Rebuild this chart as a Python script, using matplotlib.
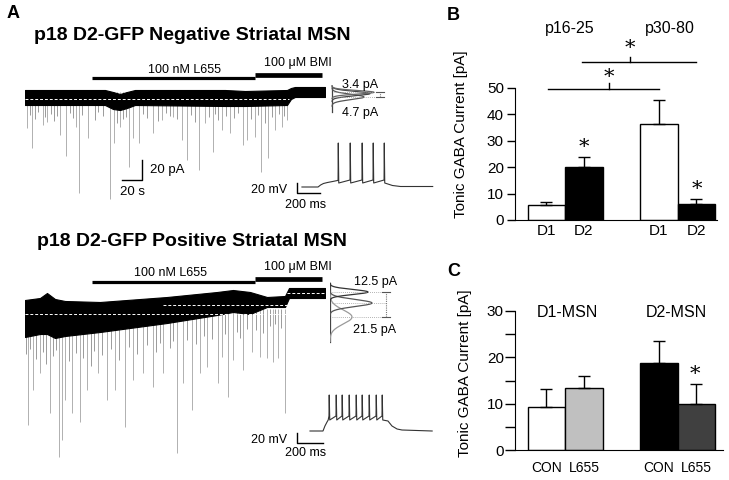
import matplotlib
matplotlib.use("Agg")
import matplotlib.pyplot as plt
import numpy as np

plt.rcParams['font.family'] = ['Liberation Sans', 'DejaVu Sans']
plt.rcParams['mathtext.default'] = 'regular'

W, H = 729, 480

# ======================= DATA =======================
# ---- Panel A, trace 1: p18 D2-GFP negative MSN (time s, current pA) ----
tr1_t = [0, 80, 88, 95, 102, 110, 200, 220, 262, 266, 270, 300]
tr1_hi = [7, 7, 5, 3, 5, 7, 7, 6, 7, 9, 10, 10]
tr1_lo = [-8, -8, -12, -13, -11, -8, -9, -9, -8, -2, 0, 0]
tr1_ev_t = [2, 7, 18, 22, 35, 41, 51, 54, 63, 85, 89, 95, 104, 108, 114, 128, 137,
            148, 157, 162, 174, 180, 188, 197, 205, 218, 222, 230, 236, 243, 250, 257, 262]
tr1_ev_amp = [-31, -51, -28, -25, -38, -59, -30, -96, -41, -102, -46, -30, -70, -41, -46, -36, -23,
              -20, -43, -63, -73, -26, -55, -33, -36, -48, -43, -40, -75, -61, -33, -30, -23]
tr1_sm_t = [5, 10, 13, 20, 26, 29, 32, 45, 48, 57, 70, 73, 78, 92, 98, 101, 118, 122,
            133, 141, 145, 152, 166, 170, 184, 190, 193, 201, 209, 213, 226, 233, 240, 247, 254, 259]
tr1_sm_amp = [-18, -22, -15, -20, -17, -24, -19, -16, -21, -18, -23, -15, -19, -26, -22, -20, -17, -21,
              -24, -16, -19, -22, -18, -25, -20, -17, -23, -19, -21, -16, -22, -18, -26, -20, -17, -19]
tr1_l655 = [67, 230]
tr1_bmi = [230, 297]

# ---- Panel A, trace 2: p18 D2-GFP positive MSN ----
tr2_t = [0, 15, 22, 30, 40, 75, 142, 192, 208, 225, 242, 260, 264, 270, 300]
tr2_hi = [14, 16, 21, 15, 13, 12, 17, 22, 24, 22, 17, 18, 26, 26, 26]
tr2_lo = [-23, -20, -20, -24, -22, -18, -9, -1, 2, 0, 7, 7, 16, 16, 16]
tr2_ev_t = [3, 8, 15, 25, 34, 37, 40, 47, 55, 62, 73, 82, 90, 100, 108, 118, 128, 138, 152, 158,
            167, 175, 182, 193, 197, 203, 208, 218, 227, 235, 242, 248, 253, 260]
tr2_ev_amp = [-111, -76, -59, -99, -143, -126, -86, -99, -108, -76, -59, -86, -76, -113, -66, -59, -73,
              -59, -139, -69, -96, -59, -53, -69, -43, -83, -46, -56, -38, -43, -44, -48, -44, -99]
tr2_sm_t = [1, 5, 11, 18, 21, 28, 31, 44, 51, 58, 66, 69, 77, 86, 94, 104, 112, 122, 131, 135,
            145, 148, 162, 171, 179, 187, 200, 212, 215, 222, 231, 238, 245, 250, 256]
tr2_sm_amp = [-40, -35, -45, -38, -50, -42, -36, -47, -39, -44, -52, -37, -41, -35, -46, -33, -40,
              -31, -38, -29, -34, -27, -26, -30, -22, -25, -20, -18, -24, -15, -16, -19, -12, -10, -14]
tr2_l655 = [67, 230]
tr2_bmi = [230, 297]

# ---- all-point histogram gaussian fits (mean pA, sd pA, relative height) ----
h1_mean = [0.0, 3.4, 4.7]
h1_sd = [2.6, 2.2, 1.8]
h1_height = [0.8, 0.95, 1.05]
h2_mean = [-3.0, 11.0, 22.0]
h2_sd = [7.0, 3.5, 2.5]
h2_height = [0.55, 1.05, 0.95]

# ---- voltage traces (ms, mV) ----
v1_pre_t = [43, 183, 205, 230, 265, 310, 352]
v1_pre_v = [-70, -70, -66, -63, -61, -59, -57]
v1_spk_t = [357, 461, 565, 661, 757]
v1_peak, v1_trough, v1_ramp = 18, -62, -56
v1_post_t = [790, 830, 900, 1180]
v1_post_v = [-64, -67, -69, -69]

v2_pre_t = [100, 200, 215, 231, 240]
v2_pre_v = [-70, -70, -60, -52, -48]
v2_spk_t = [246, 300, 346, 400, 454, 500, 554, 608, 654]
v2_peak, v2_trough, v2_ramp = 2, -48, -40
v2_post_t = [700, 731, 770, 808, 1040]
v2_post_v = [-50, -60, -66, -68, -70]

# ---- Panel B ----
B_groups = ["p16-25", "p30-80"]
B_labels = ["D1", "D2", "D1", "D2"]
B_vals = [5.5, 20.0, 36.3, 6.0]
B_err = [1.5, 3.7, 9.1, 2.1]
B_colors = ["white", "black", "white", "black"]

# ---- Panel C ----
C_groups = ["D1-MSN", "D2-MSN"]
C_labels = ["CON", "L655", "CON", "L655"]
C_vals = [9.2, 13.3, 18.7, 9.9]
C_err = [4.0, 2.7, 4.8, 4.3]
C_colors = ["white", "#c0c0c0", "black", "#404040"]

# ======================= FIGURE =======================
fig = plt.figure(figsize=(W / 100, H / 100), dpi=100)


def box(x0, y0, x1, y1):
    return [x0 / W, 1 - y1 / H, (x1 - x0) / W, (y1 - y0) / H]


def ftext(x, y, s, **kw):
    kw.setdefault('va', 'center')
    fig.text(x / W, 1 - y / H, s, **kw)


def trace(box_px, ylim, et, ehi, elo, ev_t, ev_amp, sm_t, sm_amp, l655, bmi, ybar, dash):
    ax = fig.add_axes(box_px)
    ax.set_xlim(0, 300)
    ax.set_ylim(*ylim)
    ax.axis('off')
    ax.vlines(sm_t, sm_amp, 5, color='#8a8a8a', lw=0.6, zorder=1)
    ax.vlines(ev_t, ev_amp, 5, color='#b0b0b0', lw=0.7, zorder=1)
    ax.fill_between(et, elo, ehi, color='black', lw=0.8, edgecolor='black', zorder=3)
    for (x0, x1, yv) in dash:
        ax.plot([x0, x1], [yv, yv], color='white', lw=0.7, ls=(0, (3, 2)), zorder=4)
    ax.plot(l655, [ybar, ybar], color='k', lw=2.3, solid_capstyle='butt', clip_on=False)
    ax.plot(bmi, [ybar + 3, ybar + 3], color='k', lw=3.4, solid_capstyle='butt', clip_on=False)
    return ax


def hist(box_px, ylim, xlim, base, means, sds, heights, colors, ibeam_x, ilev):
    ax = fig.add_axes(box_px)
    ax.set_xlim(*xlim)
    ax.set_ylim(*ylim)
    ax.axis('off')
    ax.plot([0, 0], base, color='#444444', lw=0.9)
    for m, s, h, c in zip(means, sds, heights, colors):
        yy = np.linspace(m - 3.5 * s, m + 3.5 * s, 200)
        ax.plot(h * np.exp(-0.5 * ((yy - m) / s) ** 2), yy, color=c, lw=0.9)
    for lv in ilev:
        ax.plot([0.05, ibeam_x], [lv, lv], color='#9a9a9a', lw=0.6, ls=(0, (1, 1.5)))
    ax.plot([ibeam_x, ibeam_x], [min(ilev), max(ilev)], color='#777777', lw=0.8, ls=(0, (1, 1)))
    for lv in (min(ilev), max(ilev)):
        ax.plot([ibeam_x - 0.1, ibeam_x + 0.1], [lv, lv], color='#555555', lw=0.8)
    return ax


def vtrace(box_px, xlim, ylim, pre_t, pre_v, spk, peak, trough, ramp, post_t, post_v):
    ax = fig.add_axes(box_px)
    ax.set_xlim(*xlim)
    ax.set_ylim(*ylim)
    ax.axis('off')
    tt, vv = list(pre_t), list(pre_v)
    for s in spk:
        tt += [s, s + 2, s + 6]
        vv += [ramp, peak, trough]
    tt += post_t
    vv += post_v
    ax.plot(tt, vv, color='#333333', lw=0.8)
    # scale bar 20 mV / 200 ms
    ax.plot([0, 0, 200], [ylim[0] + 34, ylim[0] + 14, ylim[0] + 14],
            color='k', lw=1.0, clip_on=False)
    return ax


# ---------- Panel A ----------
ftext(7, 14, "A", fontsize=13, fontweight='bold')
ftext(192, 35, "p18 D2-GFP Negative Striatal MSN", fontsize=14, fontweight='bold', ha='center')
ftext(192, 241, "p18 D2-GFP Positive Striatal MSN", fontsize=14, fontweight='bold', ha='center')

ax1 = trace(box(25, 55, 325, 215), (-118, 42), tr1_t, tr1_hi, tr1_lo, tr1_ev_t, tr1_ev_amp,
            tr1_sm_t, tr1_sm_amp, tr1_l655, tr1_bmi, 19, [(0, 264, -2)])
# 20 pA / 20 s scale bar
ax1.plot([97, 117, 117], [-83, -83, -63], color='k', lw=1.0)
ftext(150, 170, "20 pA", fontsize=9.5, ha='left')
ftext(132, 192, "20 s", fontsize=9.5, ha='center')
ftext(185, 70, "100 nM L655", fontsize=9, ha='center')
ftext(298, 63, "100 \u03bcM BMI", fontsize=9, ha='center')

ax2 = trace(box(25, 255, 325, 475), (-161, 59), tr2_t, tr2_hi, tr2_lo, tr2_ev_t, tr2_ev_amp,
            tr2_sm_t, tr2_sm_amp, tr2_l655, tr2_bmi, 32,
            [(0, 262, 0), (138, 262, 9), (262, 300, 21)])
ftext(170, 273, "100 nM L655", fontsize=9, ha='center')
ftext(298, 267, "100 \u03bcM BMI", fontsize=9, ha='center')

hist(box(330, 55, 400, 215), (-118, 42), (-0.05, 1.7), [-15, 9], h1_mean, h1_sd, h1_height,
     ['#555555', '#444444', '#666666'], 1.2, [0.0, 4.7])
ftext(360, 85, "3.4 pA", fontsize=9, ha='center')
ftext(360, 113, "4.7 pA", fontsize=9, ha='center')

hist(box(330, 255, 400, 475), (-161, 59), (0, 1.75), [-28, 31], h2_mean, h2_sd, h2_height,
     ['#9a9a9a', '#555555', '#333333'], 1.4, [-3.0, 11.0, 22.0])
ftext(376, 282, "12.5 pA", fontsize=9, ha='center')
ftext(375, 330, "21.5 pA", fontsize=9, ha='center')

vtrace(box(297, 135, 435, 200), (0, 1200), (-96, 34), v1_pre_t, v1_pre_v, v1_spk_t,
       v1_peak, v1_trough, v1_ramp, v1_post_t, v1_post_v)
ftext(287, 190, "20 mV", fontsize=9, ha='right')
ftext(306, 205, "200 ms", fontsize=9, ha='center')

vtrace(box(297, 385, 435, 450), (0, 1062), (-108, 22), v2_pre_t, v2_pre_v, v2_spk_t,
       v2_peak, v2_trough, v2_ramp, v2_post_t, v2_post_v)
ftext(287, 440, "20 mV", fontsize=9, ha='right')
ftext(306, 453, "200 ms", fontsize=9, ha='center')

# ---------- Panel B ----------
xpos = [1, 2, 4, 5]
axB = fig.add_axes(box(515, 88, 717, 220))
axB.bar(xpos, B_vals, width=1.0, color=B_colors, edgecolor='k', lw=1.0, zorder=2)
axB.errorbar(xpos, B_vals, yerr=[[0] * 4, B_err], fmt='none', ecolor='k', elinewidth=1,
             capsize=4, capthick=1, zorder=3)
axB.set_xlim(0.16, 5.547)
axB.set_ylim(0, 50)
axB.spines[['top', 'right']].set_visible(False)
axB.spines['left'].set_bounds(0, 50)
axB.set_yticks([0, 10, 20, 30, 40, 50])
axB.tick_params(axis='y', length=6, width=1, pad=2, labelsize=11)
axB.set_xticks(xpos)
axB.set_xticklabels(B_labels)
axB.tick_params(axis='x', length=0, pad=3, labelsize=11)
axB.set_ylabel("Tonic GABA Current [pA]", fontsize=11)
axB.yaxis.set_label_coords(-0.233, 0.65)
# significance brackets
axB.plot([1.04, 4.0], [49.5, 49.5], color='k', lw=1, clip_on=False)
axB.plot([2.67, 2.67], [49.5, 51.9], color='k', lw=1, clip_on=False)
axB.plot([1.95, 4.99], [59.7, 59.7], color='k', lw=1, clip_on=False)
axB.plot([3.23, 3.23], [59.7, 61.7], color='k', lw=1, clip_on=False)
for xa, ya in [(2.67, 54.0), (3.23, 64.8), (2.0, 27.3), (5.0, 11.7)]:
    axB.text(xa, ya, "*", fontsize=15, ha='center', va='center', family='DejaVu Serif')
axB.text(1.63, 72.7, B_groups[0], fontsize=11.5, ha='center', va='center')
axB.text(4.29, 72.7, B_groups[1], fontsize=11.5, ha='center', va='center')
ftext(447, 15, "B", fontsize=13, fontweight='bold')

# ---------- Panel C ----------
axC = fig.add_axes(box(515, 311, 723, 450))
axC.bar(xpos, C_vals, width=1.0, color=C_colors, edgecolor='k', lw=1.0, zorder=2)
axC.errorbar(xpos, C_vals, yerr=[[0] * 4, C_err], fmt='none', ecolor='k', elinewidth=1,
             capsize=4, capthick=1, zorder=3)
axC.set_xlim(0.16, 5.707)
axC.set_ylim(0, 30)
axC.spines[['top', 'right']].set_visible(False)
axC.spines['left'].set_bounds(0, 30)
axC.set_yticks([0, 10, 20, 30])
axC.set_yticks([5, 15, 25], minor=True)
axC.tick_params(axis='y', which='both', length=7, width=1, pad=1, labelsize=11)
axC.set_xticks(xpos)
axC.set_xticklabels(C_labels)
axC.tick_params(axis='x', length=0, pad=8, labelsize=10)
axC.set_ylabel("Tonic GABA Current [pA]", fontsize=11)
axC.yaxis.set_label_coords(-0.207, 0.554)
axC.text(4.96, 16.4, "*", fontsize=15, ha='center', va='center', family='DejaVu Serif')
axC.text(1.55, 29.7, C_groups[0], fontsize=11.5, ha='center', va='center')
axC.text(4.47, 29.7, C_groups[1], fontsize=11.5, ha='center', va='center')
ftext(447, 271, "C", fontsize=13, fontweight='bold')

fig.savefig("out.png", dpi=100)
